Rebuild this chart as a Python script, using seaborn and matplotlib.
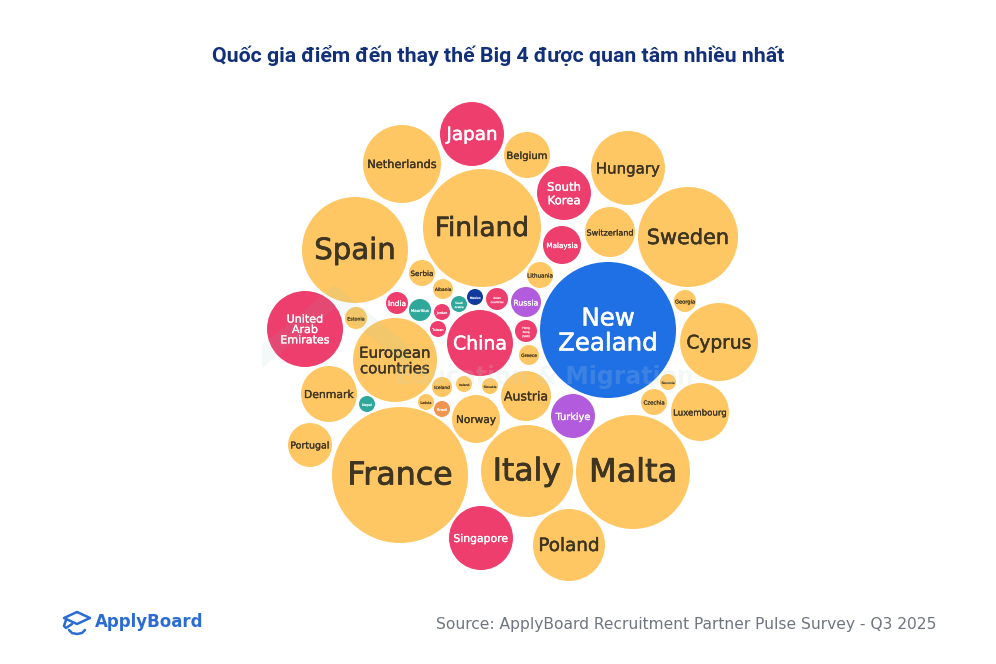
import matplotlib
matplotlib.use("Agg")
import matplotlib.pyplot as plt
import matplotlib.patheffects as pe
import pandas as pd
import seaborn as sns

TITLE = "Quốc gia điểm đến thay thế Big 4 được quan tâm nhiều nhất"
SOURCE = "Source: ApplyBoard Recruitment Partner Pulse Survey - Q3 2025"

# bubbles: centre and radius in image pixels
names = ["New\nZealand", "France", "Finland", "Malta", "Spain", "Sweden", "Italy",
         "European\ncountries", "Cyprus", "Netherlands", "United\nArab\nEmirates",
         "Hungary", "Poland", "China", "Japan", "Singapore", "Luxembourg", "Denmark",
         "South\nKorea", "Switzerland", "Austria", "Norway", "Belgium", "Portugal",
         "Turkiye", "Malaysia", "Russia", "Serbia", "Lithuania", "Czechia", "India",
         "Mauritius", "Estonia", "Georgia", "Asian\ncountries", "Hong\nKong\n(SAR)",
         "Albania", "Greece", "Iceland", "Jordan", "Taiwan", "Saudi\nArabia", "Mexico",
         "Ireland", "Slovakia", "Latvia", "Brazil", "Nepal", "Slovenia"]
bubble_x = [608, 400, 482, 633, 355, 688, 527, 395, 719, 402, 305, 628, 569, 480, 472,
            481, 700, 329, 564, 610, 526, 476, 527, 310, 573, 562, 526, 422, 540, 654,
            397, 420, 356, 685, 497, 526, 443, 529, 442, 442, 438, 459, 475, 464, 490,
            426, 442, 367, 668]
bubble_y = [330, 475, 228, 472, 250, 237, 471, 360, 342, 164, 329, 168, 545, 343, 134,
            538, 412, 394, 193, 232, 396, 419, 155, 445, 416, 245, 302, 273, 275, 402,
            303, 310, 318, 301, 299, 331, 289, 355, 387, 312, 329, 304, 297, 384, 386,
            402, 409, 404, 382]
bubble_r = [68, 68, 59, 57, 53, 50, 46, 42, 39, 39, 38, 37, 36, 33, 32, 32, 29, 28, 27,
            25, 25, 24, 23, 22, 22, 19, 15, 13, 13, 13, 11, 11, 11, 11, 11, 11, 10, 10,
            10, 8, 8, 8, 8, 8, 8, 8, 8, 8, 8]
groups = ["oceania", "europe", "europe", "europe", "europe", "europe", "europe", "europe",
          "europe", "europe", "asia", "europe", "europe", "asia", "asia", "asia", "europe",
          "europe", "asia", "europe", "europe", "europe", "europe", "europe", "eurasia",
          "asia", "eurasia", "europe", "europe", "europe", "asia", "africa", "europe",
          "europe", "asia", "asia", "europe", "europe", "europe", "asia", "asia", "africa",
          "americas", "europe", "europe", "europe", "latam", "africa", "europe"]
label_sizes = [17.6, 22.8, 19, 23, 21, 15, 22.6, 10.8, 13.4, 8.2, 8, 10.8, 13.2, 13.6,
               13.2, 7.8, 6.2, 7.8, 8.4, 5.8, 9, 7.6, 7.2, 6.8, 7, 5.2, 5.6, 5.2, 4, 3.9,
               5.3, 2.8, 3.4, 3.7, 2, 2, 3.2, 3.2, 3.1, 2.4, 2.4, 2, 2.2, 2.2, 2.2, 2.6,
               2.6, 2.4, 2.2]
group_colors = {"europe": "#FEC763", "asia": "#EE3E6D", "oceania": "#1F6FE5",
                "eurasia": "#B25BDD", "africa": "#2FA79B", "americas": "#123A9C",
                "latam": "#F0954F"}
DARK_TEXT = "#3D3422"

sns.set_theme(style="white")
plt.rcParams["font.family"] = ["DejaVu Sans"]

df = pd.DataFrame({"name": names, "x": bubble_x, "y": bubble_y, "r": bubble_r,
                   "group": groups, "label_size": label_sizes})
# radius in pixels to scatter area in points^2 at dpi 100
df["area"] = (df["r"] * 2 * 0.72) ** 2

fig = plt.figure(figsize=(9.96, 6.64), dpi=100)
ax = fig.add_axes([0, 0, 1, 1])
sns.scatterplot(data=df, x="x", y="y", hue="group", palette=group_colors, s=df["area"],
                edgecolor="none", legend=False, ax=ax, zorder=2)
ax.set_xlim(0, 996)
ax.set_ylim(664, 0)
ax.axis("off")

for row in df.itertuples():
    color = DARK_TEXT if row.group == "europe" else "white"
    t = ax.text(row.x, row.y + 1, row.name, ha="center", va="center", ma="center",
                fontsize=row.label_size, color=color, linespacing=1.05, zorder=3)
    # fake a semi-bold weight, DejaVu only has regular and bold
    t.set_path_effects([pe.withStroke(linewidth=row.label_size * 0.025, foreground=color)])

# faint watermark over the bubbles
ax.fill([262, 335, 408, 408, 335, 262], [345, 285, 345, 368, 308, 368],
        color="#7FBFB5", alpha=0.09, lw=0, zorder=4)
ax.text(545, 377, "Education & Migration", ha="center", va="center", fontsize=17,
        fontweight="bold", color="#BFDCD6", alpha=0.18, zorder=4)

ax.text(498, 55, TITLE, ha="center", va="center", fontsize=15.3, fontweight="bold",
        family="Roboto", color="#12307A")
ax.text(936, 624, SOURCE, ha="right", va="center", fontsize=11.2, color="#6F7580")

# ApplyBoard logo: mortarboard outline, stem and smile
LOGO = "#2B6CD4"
ax.plot([77, 90, 77, 64, 77], [612, 618, 624, 618, 612], color=LOGO, lw=1.8, zorder=3)
ax.plot([66, 64, 66, 72], [620, 626, 628, 624], color=LOGO, lw=1.8, zorder=3)
ax.plot([69, 72, 77, 82, 85], [630, 633, 634, 633, 630], color=LOGO, lw=1.8, zorder=3)
ax.text(95, 622, "ApplyBoard", ha="left", va="center", fontsize=12, fontweight="bold",
        color=LOGO)

fig.savefig("out.png", dpi=100)
plt.close(fig)
